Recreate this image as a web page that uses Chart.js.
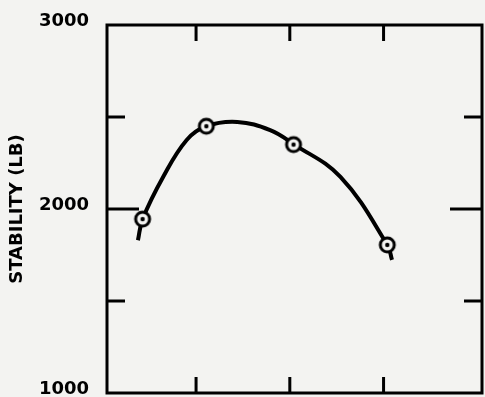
<!DOCTYPE html>
<html>
<head>
<meta charset="utf-8">
<script src="https://cdn.jsdelivr.net/npm/chart.js@4"></script>
<style>
html,body{margin:0;padding:0;background:#f3f3f1;}
#wrap{position:relative;width:485px;height:397px;}
</style>
</head>
<body>
<div id="wrap"><canvas id="chart" width="485" height="397"></canvas></div>
<script>
// DATA
const yTicks = [1000, 2000, 3000];
const xTicks = [1, 2, 3];
const markX = [0.43, 1.11, 2.04, 3.04];
const markY = [1945, 2450, 2350, 1805];
// fitted curve
const curveX = [0.38, 0.43, 0.65, 0.90, 1.11, 1.44, 1.79, 2.04, 2.54, 3.04, 3.09];
const curveY = [1830, 1945, 2175, 2375, 2450, 2473, 2429, 2353, 2174, 1805, 1723];

// circle marker with dot
const mk = document.createElement("canvas");
mk.width = 22; mk.height = 22;
const m = mk.getContext("2d");
m.beginPath(); m.arc(11,11,7,0,Math.PI*2);
m.fillStyle="#f3f3f1"; m.fill();
m.lineWidth=3; m.strokeStyle="#000"; m.stroke();
m.beginPath(); m.arc(11,11,2.2,0,Math.PI*2); m.fillStyle="#000"; m.fill();

// FRAME + INWARD TICKS
const framePlugin = {
    id:"frame",
    beforeDatasetsDraw(chart){
        const c = chart.ctx, a = chart.chartArea;
        const xs = chart.scales.x, ys = chart.scales.y;
        c.save();
        c.strokeStyle="#000";
        c.lineWidth=3;
        c.strokeRect(a.left,a.top,a.right-a.left,a.bottom-a.top);
        c.beginPath();
        [1500,2000,2500].forEach(v=>{
            const y = ys.getPixelForValue(v);
            const len = v===2000 ? 32 : 18;
            c.moveTo(a.left,y); c.lineTo(a.left+len,y);
            c.moveTo(a.right,y); c.lineTo(a.right-len,y);
        });
        xTicks.forEach(v=>{
            const x = xs.getPixelForValue(v);
            c.moveTo(x,a.top); c.lineTo(x,a.top+16);
            c.moveTo(x,a.bottom); c.lineTo(x,a.bottom-16);
        });
        c.stroke();
        c.restore();
    }
};

new Chart(document.getElementById("chart"),{
    type:"scatter",
    data:{
        datasets:[
            {
                data: markX.map((x,i)=>({x:x,y:markY[i]})),
                pointStyle: mk,
                pointRadius: 9,
                showLine:false
            },
            {
                data: curveX.map((x,i)=>({x:x,y:curveY[i]})),
                showLine:true,
                borderColor:"#000",
                borderWidth:4,
                pointRadius:0,
                tension:0.4
            }
        ]
    },
    options:{
        responsive:false,
        animation:false,
        layout:{autoPadding:false,padding:{top:25,right:3,bottom:4,left:0}},
        plugins:{legend:{display:false},tooltip:{enabled:false}},
        scales:{
            x:{
                type:"linear",
                display:false,
                min:0.05,
                max:4.05
            },
            y:{
                min:1000,
                max:3000,
                afterBuildTicks: s => { s.ticks = yTicks.map(v=>({value:v})); },
                afterFit: s => { s.width = 107; s.paddingTop = 0; s.paddingBottom = 0; },
                grid:{display:false},
                border:{display:false},
                ticks:{
                    padding:10,
                    labelOffset:-4,
                    color:"#000",
                    callback: v => String(v),
                    font:{family:"DejaVu Sans",weight:"bold",size:18}
                },
                title:{
                    display:true,
                    text:"STABILITY (LB)",
                    color:"#000",
                    padding:{top:7,bottom:0},
                    font:{family:"DejaVu Sans",weight:"bold",size:18}
                }
            }
        }
    },
    plugins:[framePlugin]
});
</script>
</body>
</html>
